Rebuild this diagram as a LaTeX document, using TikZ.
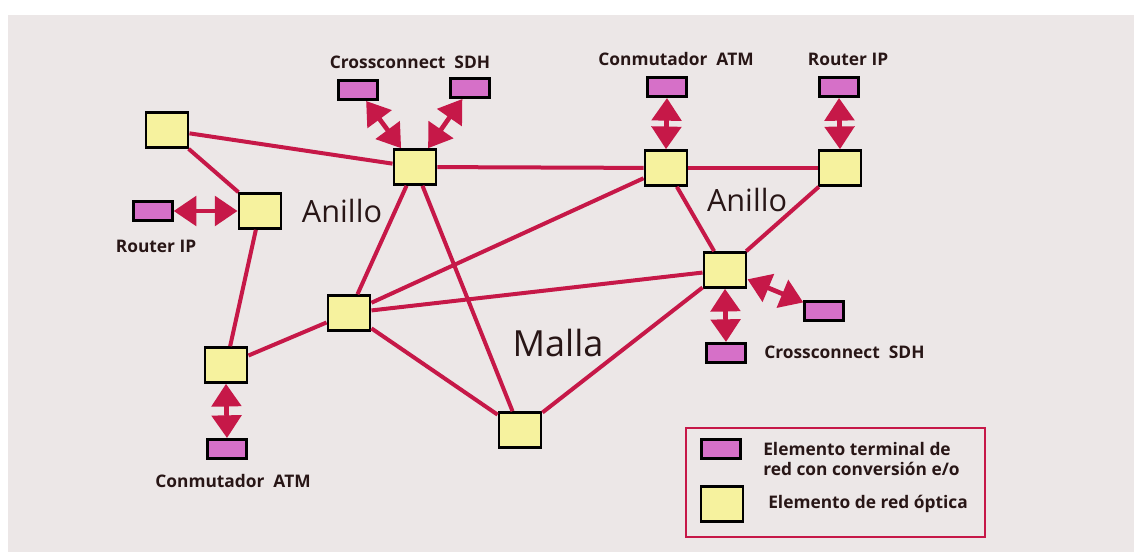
\documentclass[tikz,border=0pt]{standalone}
\usepackage{fontspec}
\setmainfont{Open Sans}
\usetikzlibrary{arrows.meta}
\definecolor{cBg}{RGB}{236,231,231}
\definecolor{cLink}{RGB}{198,24,72}
\definecolor{cOptic}{RGB}{246,242,158}
\definecolor{cTerm}{RGB}{214,112,200}
\definecolor{cInk}{RGB}{40,22,22}
\begin{document}
\begin{tikzpicture}[x=0.75pt,y=-0.75pt,
  oenode/.style={draw=black,line width=2.2pt,fill=cOptic,minimum width=31.5pt,minimum height=26pt,inner sep=0pt},
  tenode/.style={draw=black,line width=2pt,fill=cTerm,minimum width=29pt,minimum height=14.5pt,inner sep=0pt},
  fibre/.style={draw=cLink,line width=3pt},
  bilink/.style={draw=cLink,line width=3.5pt,{Triangle[width=22pt,length=17pt]}-{Triangle[width=22pt,length=17pt]}},
  lbl/.style={text=cInk,font=\bfseries\fontsize{13}{15}\selectfont,inner sep=0pt},
  big/.style={text=cInk,font=\fontsize{23}{26}\selectfont,inner sep=0pt}]
\useasboundingbox (0,0) rectangle (1134,552);
\fill[white] (0,0) rectangle (1134,552);
\fill[cBg] (8,15) rectangle (1134,552);

% optical network elements
\node[oenode] (A) at (167,130) {};
\node[oenode] (B) at (260,211) {};
\node[oenode] (C) at (415,167) {};
\node[oenode] (D) at (666,168) {};
\node[oenode] (E) at (840,168) {};
\node[oenode] (F) at (725,270) {};
\node[oenode] (G) at (349,313) {};
\node[oenode] (H) at (226,365) {};
\node[oenode] (I) at (520,430) {};

% terminal elements
\node[tenode] (tX1) at (358,90) {};
\node[tenode] (tX2) at (470,88) {};
\node[tenode] (tR1) at (153,211) {};
\node[tenode] (tA1) at (667,87) {};
\node[tenode] (tR2) at (839,87) {};
\node[tenode] (tX3) at (726,353) {};
\node[tenode] (tX4) at (824,311) {};
\node[tenode] (tA2) at (227,449) {};

% fibre links
\draw[fibre] (A) -- (C);
\draw[fibre] (A) -- (B);
\draw[fibre] (B) -- (H);
\draw[fibre] (C) -- (D);
\draw[fibre] (D) -- (E);
\draw[fibre] (C) -- (G);
\draw[fibre] (C) -- (I);
\draw[fibre] (D) -- (G);
\draw[fibre] (D) -- (F);
\draw[fibre] (E) -- (F);
\draw[fibre] (G) -- (F);
\draw[fibre] (F) -- (I);
\draw[fibre] (G) -- (H);
\draw[fibre] (G) -- (I);

% electro-optical access links
\draw[bilink] (tX1) -- (C);
\draw[bilink] (tX2) -- (C);
\draw[bilink] (tR1.east) -- (B.west);
\draw[bilink] (tA1.south) -- (D.north);
\draw[bilink] (tR2.south) -- (E.north);
\draw[bilink] (F.south) -- (tX3.north);
\draw[bilink] (F) -- (tX4);
\draw[bilink] (H.south) -- (tA2.north);

% labels
\node[lbl] (lX1) at (410,62) {Crossconnect\ \ SDH};
\node[lbl] (lR1) at (156,246) {Router IP};
\node[lbl] (lA1) at (676,59) {Conmutador\ \ ATM};
\node[lbl] (lR2) at (848,59) {Router IP};
\node[lbl,anchor=west] (lX2) at (764,352) {Crossconnect\ \ SDH};
\node[lbl] (lA2) at (233,481) {Conmutador\ \ ATM};
\node[big] (ring1) at (342,211) {Anillo};
\node[big] (ring2) at (747,200) {Anillo};
\node[big,font=\fontsize{27}{30}\selectfont] (mesh) at (558,343) {Malla};

% legend
\draw[cLink,line width=1.1pt] (686,428) rectangle (985,537);
\node[tenode] (kT) at (721,449) {};
\node[oenode] (kO) at (722,504) {};
\node[lbl,anchor=west,align=left,font=\bfseries\fontsize{13}{14.5}\selectfont] (kTt) at (763,459) {Elemento terminal de\\red con conversión e/o};
\node[lbl,anchor=west] (kOt) at (768,504) {Elemento de red óptica};
\end{tikzpicture}
\end{document}
